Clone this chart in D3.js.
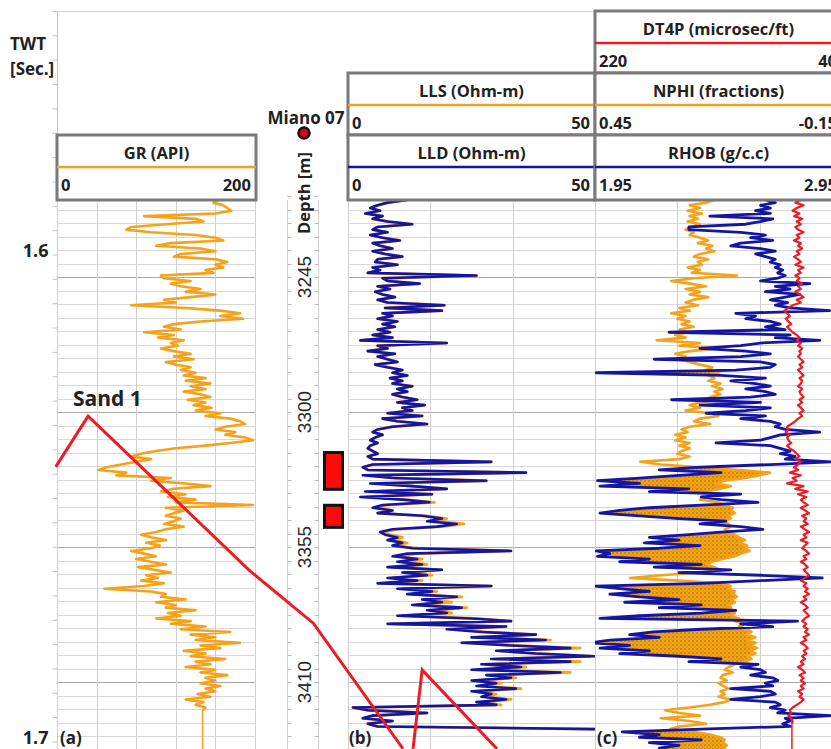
<!DOCTYPE html>
<html>
<head>
<meta charset="utf-8">
<script src="https://cdn.jsdelivr.net/npm/d3@7/dist/d3.min.js"></script>
<style>
body{margin:0;background:#fff}
svg{display:block}
.hd{font-family:"Open Sans",sans-serif;font-weight:700;font-size:16.5px;fill:#222}
</style>
</head>
<body>
<svg id="chart" width="831" height="749"></svg>
<script>
// log sampling (LAS style)
var DEPTH_TOP = 3212.5, DEPTH_STEP = 1.1, DEPTH_BOTTOM = 3438;

var GR = [163,163,158,168,172,176,160,88,140,148,
110,75,70,95,140,160,168,115,100,145,
160,125,118,160,172,160,168,150,158,105,
108,135,115,125,145,130,160,135,108,120,
75,130,165,185,165,188,145,118,108,125,
88,118,102,128,115,122,105,118,135,118,
138,110,120,135,125,140,128,150,130,155,
135,150,128,145,155,132,150,138,156,140,
165,150,175,185,190,170,160,180,170,190,
198,175,150,120,100,85,75,95,80,65,
50,42,70,60,115,95,130,155,118,105,
130,112,140,120,198,110,128,118,110,125,
118,108,128,110,100,85,96,110,90,104,
95,75,88,100,80,95,110,82,98,115,
90,102,85,108,88,48,95,110,105,130,
100,120,110,140,112,125,100,135,115,150,
125,175,135,160,140,185,145,165,128,150,
135,170,140,155,130,160,145,172,150,160,
145,165,150,160,142,155,130,148,140,150,
147];

var LLD = [12,12,8,6,4.5,6.5,3.5,7,5,8,
13,6,5,8,4.5,7,10.5,5,6.5,9,
5,7.5,11,6,5.5,10,5,6.5,4,26,
7,8,14.5,6,8.5,5.5,7,9.5,6,8,
19.5,7.5,19,7,9,6,10,7,9.5,6,
8.5,5,9,2.5,20,6,8,4,9.5,6,
8,10,5.5,8,11,9,12,8.5,11,9,
13,10,12,9,11,14,10,15.5,11,13,
8,15,7,10,16,9,6,5,7,5.5,
4.5,6,4.5,4,5,6,4,5,29,5,
3,4,36,3,9,28,4.5,13,20,3.5,
17,2.5,11,16.5,7,5,9,6,15,19,
16,22,18,9,6.5,7.5,10,8,11,9,
13,33,12,9,14,10,15,8,19,11,
16,8,14,6,29,10,17,12,22,15,
19,13,23,16,20,10,25,33,8,32,
20,27,38,25,40,23,33,45,30,38,
50,29,45,27,35,25,43,28,33,25,
30,26,34,25,29,27,32,26,30,1,
4,16,5,3,9,4,6,50];

var LLS = [12,12,8,6,4.5,6.5,3.5,7,5,8,
13,6,5,8,4.5,7,10.5,5,6.5,9,
5,7.5,11,6,5.5,10,5,6.5,4,26,
7,8,14.5,6,8.5,5.5,7,9.5,6,8,
19.5,7.5,19,7,9,6,10,7,9.5,6,
8.5,5,9,2.5,20,6,8,4,9.5,6,
8,10,5.5,8,11,9,12,8.5,11,9,
13,10,12,9,11,14,10,15.5,11,13,
8,15,7,10,16,9,6,5,7,5.5,
4.5,6,4.5,4,5,6,4,5,29,5,
3,4,36,4.5,10,28,6,13,20,4.5,
17,4,12,17.5,8,5.5,9,6,16,20,
18,23.5,19,10,7,8.5,11,9,12,9.5,
14,33,14,10,15,11,16,9.5,19,12,
17,9,15,7,29,11,18,13,23,16,
21,14,24,18,21,11,26,33,9,32,
22,28,38,26,41,24,34,47,31,39,
49,30,47,28,36,26,45,29,34,26,
31,27,35,26,30,28,33,27,31,1,
4,16,5,3,9,4,6,50];

var NPHI = [.16,.16,.18,.22,.195,.225,.19,.22,.2,.225,
.195,.215,.23,.21,.22,.195,.175,.2,.165,.18,
.16,.195,.21,.175,.2,.19,.225,.195,.215,.105,
.21,.265,.22,.18,.23,.195,.22,.175,.21,.23,
.2,.245,.22,.265,.23,.25,.22,.24,.21,.245,
.225,.255,.23,.3,.195,.245,.15,.22,.255,.23,
.25,.22,.195,.165,.18,.15,.175,.16,.175,.145,
.165,.14,.16,.145,.17,.15,.195,.22,.195,.23,
.17,.15,.195,.21,.17,.22,.24,.225,.255,.23,
.255,.22,.245,.22,.24,.25,.22,.245,.34,.29,
.195,.1,.025,.05,.085,.135,.16,.12,.145,.18,
.16,.175,.195,.15,.135,.115,.12,.11,.125,.12,
.14,.125,.12,.135,.125,.11,.1,.085,.1,.08,
.085,.075,.095,.11,.14,.165,.18,.16,.145,.195,
.29,.365,.245,.145,.12,.125,.11,.115,.105,.12,
.11,.125,.12,.135,.11,.12,.1,.11,.085,.1,
.08,.07,.085,.06,.08,.06,.075,.056,.075,.06,
.08,.07,.085,.11,.125,.135,.115,.14,.145,.13,
.15,.14,.125,.145,.135,.15,.12,.135,.17,.22,
.28,.245,.195,.29,.22,.18,.245,.268,.21,.17,
.146,.135,.14,.13,.135,.135];

var RHOB = [2.62,2.64,2.68,2.62,2.66,2.6,2.66,2.415,2.67,2.62,
2.56,2.33,2.33,2.54,2.64,2.58,2.67,2.54,2.5,2.62,
2.68,2.6,2.64,2.68,2.66,2.7,2.68,2.71,2.69,2.72,
2.69,2.62,2.82,2.68,2.74,2.64,2.78,2.72,2.66,2.73,
2.68,2.74,2.9,2.52,2.6,2.56,2.66,2.7,2.64,2.72,
2.25,2.74,2.68,2.86,2.62,2.54,2.375,2.56,2.66,2.54,
2.19,2.62,2.68,2.66,2.52,1.955,2.46,2.64,2.5,2.6,
2.66,2.56,2.64,2.68,2.58,2.26,2.62,2.375,2.66,2.56,
2.4,2.64,2.54,2.66,2.7,2.68,2.72,2.86,2.7,2.66,
2.62,2.44,2.66,2.7,2.74,2.7,2.76,2.72,2.905,2.66,
2.375,2.21,2.46,2.29,2.13,1.96,2.13,1.97,2.33,2.17,
2.54,2.38,2.46,2.61,2.38,2.17,2.05,1.97,2.13,2.29,
2.48,2.375,2.54,2.63,2.46,2.33,2.17,2.29,2.15,2.375,
2.21,1.955,2.01,1.96,2.17,2.05,2.38,2.19,2.5,2.29,
2.62,2.87,2.62,2.38,1.95,2.05,2.17,2.01,2.13,2.29,
2.07,2.38,2.21,2.52,2.38,2.13,1.97,2.77,2.54,2.67,
2.38,2.185,2.09,2.21,2.01,1.93,2.09,1.97,2.17,2.05,
2.29,2.46,2.33,2.61,2.54,2.62,2.64,2.58,2.67,2.69,
2.64,2.67,2.5,2.66,2.68,2.62,2.5,2.68,2.7,2.66,
2.72,2.69,2.905,2.72,2.74,2.71,2.74,2.38,2.06,2.21,
2.13,2.38,2.17,2.29,2.21,2.25];

var DT4P = [72,70,74,68,73,76,71,75,69,73,
70,74,72,68,73,71,75,70,72,69,
73,71,75,72,70,74,68,72,70,74,
71,73,69,72,70,74,71,68,73,70,
76,79,82,80,78,81,79,77,80,78,
76,73,71,73,70,72,69,71,70,72,
70,68,71,69,72,70,68,71,69,70,
72,69,71,70,68,71,69,72,70,68,
71,69,72,74,77,80,79,81,78,80,
79,77,80,78,75,73,71,74,70,72,
75,72,78,70,76,73,80,68,74,65,
72,66,70,68,65,70,67,64,69,66,
68,65,70,67,64,68,66,70,65,67,
69,66,64,68,66,70,67,65,68,66,
64,67,70,66,68,65,67,64,68,66,
70,67,65,68,66,64,67,69,66,68,
65,67,64,68,66,70,67,65,68,66,
69,67,70,68,72,69,67,71,68,70,
67,70,68,72,69,71,68,70,73,76,
78,77,79,77,76,76.5];

// tested intervals (m)
var TEST_INTERVALS = [[3316.5, 3331.5], [3338, 3347]];
var DEPTH_LABELS = [3245, 3300, 3355, 3410];
var TWT_LABELS = [1.6, 1.7];

// Sand 1 horizon: lateral position (% of panel width) vs TWT (s)
var SAND1_A = [[6.7,1.6436],[10.6,1.6332],[30.1,1.665],[37.7,1.6757],[48.5,1.7015]];
var SAND1_B = [[49.7,1.7015],[50.8,1.6853],[59.8,1.7015]];

var W = 831, H = 749;
var ORANGE = "#f5a21a", BLUE = "#1515a3", RED = "#ec1c24";
var svg = d3.select("#chart");

var depthAt = function(i){ return DEPTH_TOP + i*DEPTH_STEP };
var yDepth = d3.scaleLinear().domain([3245, 3410]).range([277, 682]);
var yTwt = d3.scaleLinear().domain([1.55, 1.7]).range([11, 741.5]);
var xTrace = d3.scaleLinear().domain([0, 100]).range([0, W]);

var xGR = d3.scaleLinear().domain([0, 200]).range([57, 255]);
var xRes = d3.scaleLinear().domain([0, 50]).range([348, 595]);
var xNphi = d3.scaleLinear().domain([0.45, -0.15]).range([595, 842]);
var xRhob = d3.scaleLinear().domain([1.95, 2.95]).range([595, 842]);
var xDt = d3.scaleLinear().domain([220, 40]).range([595, 842]);

var defs = svg.append("defs");
var clip = function(id, x0, x1){
   defs.append("clipPath").attr("id", id).append("rect")
      .attr("x", x0).attr("y", 200).attr("width", x1-x0).attr("height", H-200);
}
clip("cA", 57, 255); clip("cB", 348, 595); clip("cC", 595, W);

var pat = defs.append("pattern").attr("id","sand").attr("width",4).attr("height",4)
   .attr("patternUnits","userSpaceOnUse");
pat.append("rect").attr("width",4).attr("height",4).attr("fill","#f3a413");
pat.append("circle").attr("cx",1).attr("cy",1).attr("r",0.7).attr("fill","#8a5a05");
pat.append("circle").attr("cx",3).attr("cy",3).attr("r",0.5).attr("fill","#a86f08");

var gridDepths = d3.range(-6, 36).map(function(k){ return 3245 + 5.5*k });

// outer frame + TWT axis
svg.append("line").attr("x1",57).attr("x2",595).attr("y1",11.5).attr("y2",11.5)
   .attr("stroke","#d4d4d4");
svg.append("line").attr("x1",57.5).attr("x2",57.5).attr("y1",11).attr("y2",H)
   .attr("stroke","#c4c4c4");
var twtAxis = d3.axisLeft(yTwt)
   .tickValues(d3.range(0, 31).map(function(k){ return 1.55 + k*0.005 }))
   .tickSize(5).tickPadding(4)
   .tickFormat(function(d){
      var hit = TWT_LABELS.filter(function(t){ return Math.abs(t-d) < 1e-6 });
      return hit.length ? d3.format(".1f")(d) : "";
   });
var ga = svg.append("g").attr("transform","translate(57.5,0)").call(twtAxis);
ga.select(".domain").remove();
ga.selectAll("line").attr("stroke","#c4c4c4");
ga.selectAll("text").attr("font-family","Open Sans, sans-serif").attr("font-weight",700)
   .attr("font-size",18).attr("fill","#222").attr("dy","0.1em");

// track grids
var trackGrid = function(xs, divs, x0, x1){
   var g = svg.append("g");
   g.selectAll("line.h").data(gridDepths).enter().append("line")
      .attr("x1",x0).attr("x2",x1)
      .attr("y1",function(d){ return Math.round(yDepth(d))+0.5 })
      .attr("y2",function(d){ return Math.round(yDepth(d))+0.5 })
      .attr("stroke",function(d){ return DEPTH_LABELS.indexOf(d) >= 0 ? "#a8a8a8" : "#d8d8d8" });
   g.selectAll("line.v").data(divs).enter().append("line")
      .attr("x1",function(d){ return Math.round(xs(d))+0.5 })
      .attr("x2",function(d){ return Math.round(xs(d))+0.5 })
      .attr("y1",200).attr("y2",H).attr("stroke","#cfcfcf");
}
trackGrid(xGR, [0,40,80,120,160,200], 57, 255);
trackGrid(xRes, [0,50/3,100/3,50], 348, 595);
trackGrid(xRhob, [1.95,1.95+1/3,1.95+2/3,2.95], 595, W);

// depth column
var dc = svg.append("g");
[287.5, 318.5].forEach(function(x, k){
   dc.append("line").attr("x1",x).attr("x2",x).attr("y1",200).attr("y2",H).attr("stroke","#d0d0d0");
   dc.selectAll(null).data(gridDepths).enter().append("line")
      .attr("x1",x).attr("x2",k ? x-4 : x+4)
      .attr("y1",function(d){ return Math.round(yDepth(d))+0.5 })
      .attr("y2",function(d){ return Math.round(yDepth(d))+0.5 })
      .attr("stroke","#bdbdbd");
});
dc.selectAll("text").data(DEPTH_LABELS).enter().append("text")
   .attr("transform",function(d){ return "translate(304,"+yDepth(d)+") rotate(-90)" })
   .attr("text-anchor","middle").attr("dominant-baseline","central")
   .attr("font-family","Liberation Sans, Arial, sans-serif").attr("font-size",19)
   .attr("fill","#2a2a2a").text(function(d){ return d });
dc.append("text").attr("class","hd").attr("transform","translate(303,193) rotate(-90)")
   .attr("text-anchor","middle").attr("dominant-baseline","central").text("Depth [m]");

dc.selectAll("rect").data(TEST_INTERVALS).enter().append("rect")
   .attr("x",324.5).attr("width",18)
   .attr("y",function(d){ return yDepth(d[0]) })
   .attr("height",function(d){ return yDepth(d[1]) - yDepth(d[0]) })
   .attr("fill","#ff0a0a").attr("stroke","#111").attr("stroke-width",3);

// curves
var logLine = function(xs){
   return d3.line().defined(function(d){ return d != null })
      .x(function(d){ return xs(d) })
      .y(function(d, i){ return yDepth(depthAt(i)) });
}
var drawCurve = function(g, vals, xs, color, w){
   g.append("path").attr("d", logLine(xs)(vals)).attr("fill","none")
      .attr("stroke",color).attr("stroke-width",w).attr("stroke-linejoin","round");
}
var tail = function(g, vals, xs, color){
   var v = vals[vals.length-1];
   g.append("line").attr("x1",xs(v)).attr("x2",xs(v))
      .attr("y1",yDepth(depthAt(vals.length-1))).attr("y2",H)
      .attr("stroke",color).attr("stroke-width",1.5);
}

var gA = svg.append("g").attr("clip-path","url(#cA)");
drawCurve(gA, GR, xGR, ORANGE, 2.6);
tail(gA, GR, xGR, ORANGE);

var gB = svg.append("g").attr("clip-path","url(#cB)");
drawCurve(gB, LLS, xRes, ORANGE, 2.8);
drawCurve(gB, LLD, xRes, BLUE, 2.6);

var gC = svg.append("g").attr("clip-path","url(#cC)");
var cross = NPHI.map(function(n, i){ return {depth: depthAt(i), nphi: n, rhob: RHOB[i]} });
gC.append("path").datum(cross)
   .attr("d", d3.area()
      .y(function(d){ return yDepth(d.depth) })
      .x0(function(d){ return xRhob(d.rhob) })
      .x1(function(d){ return Math.max(xRhob(d.rhob), xNphi(d.nphi)) }))
   .attr("fill","url(#sand)");
drawCurve(gC, NPHI, xNphi, ORANGE, 2.6);
drawCurve(gC, RHOB, xRhob, BLUE, 2.8);
drawCurve(gC, DT4P, xDt, RED, 2.2);
tail(gC, DT4P, xDt, RED);

// headers
var header = function(x0, x1, y0, y1, title, color, lo, hi){
   var g = svg.append("g");
   g.append("rect").attr("x",x0).attr("y",y0).attr("width",x1-x0).attr("height",y1-y0)
      .attr("fill","#fff").attr("stroke","#7a7a7a").attr("stroke-width",3);
   g.append("text").attr("class","hd").attr("x",(x0+x1)/2).attr("y",y0+17)
      .attr("text-anchor","middle").attr("dominant-baseline","central").text(title);
   g.append("line").attr("x1",x0).attr("x2",x1).attr("y1",y0+32).attr("y2",y0+32)
      .attr("stroke",color).attr("stroke-width",2.5);
   g.append("text").attr("class","hd").attr("x",x0+4).attr("y",y0+49)
      .attr("dominant-baseline","central").text(lo);
   g.append("text").attr("class","hd").attr("x",x1-5).attr("y",y0+49)
      .attr("text-anchor","end").attr("dominant-baseline","central").text(hi);
}
header(57, 256, 135, 200, "GR (API)", ORANGE, "0", "200");
header(348, 595, 73, 135, "LLS (Ohm-m)", ORANGE, "0", "50");
header(348, 595, 135, 200, "LLD (Ohm-m)", BLUE, "0", "50");
header(595, 842, 11, 73, "DT4P (microsec/ft)", RED, "220", "40");
header(595, 842, 73, 135, "NPHI (fractions)", ORANGE, "0.45", "-0.15");
header(595, 842, 135, 200, "RHOB (g/c.c)", BLUE, "1.95", "2.95");

// horizon picks
var hz = d3.line().x(function(d){ return xTrace(d[0]) }).y(function(d){ return yTwt(d[1]) });
[SAND1_A, SAND1_B].forEach(function(p){
   svg.append("path").attr("d", hz(p)).attr("fill","none").attr("stroke",RED)
      .attr("stroke-width",3);
});

// well marker + labels
svg.append("circle").attr("cx",304).attr("cy",133).attr("r",5.5)
   .attr("fill","#e0001b").attr("stroke","#111").attr("stroke-width",2.5);
var lab = function(x, y, t, size, anchor){
   svg.append("text").attr("class","hd").attr("x",x).attr("y",y)
      .style("font-size",size+"px")
      .attr("text-anchor",anchor || "start").attr("dominant-baseline","central").text(t);
}
lab(306, 117, "Miano 07", 17, "middle");
lab(10, 43, "TWT", 17);
lab(10, 68, "[Sec.]", 17);
lab(73, 398, "Sand 1", 21);
lab(60, 737, "(a)", 17);
lab(349, 737, "(b)", 17);
lab(597, 737, "(c)", 17);
</script>
</body>
</html>
